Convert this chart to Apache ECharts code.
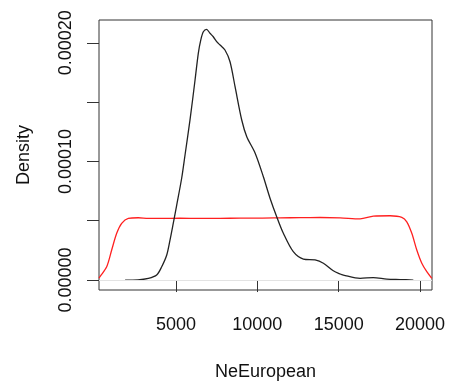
<!DOCTYPE html>
<html>
<head>
<meta charset="utf-8">
<script src="https://cdn.jsdelivr.net/npm/echarts@6/dist/echarts.min.js"></script>
<style>
html,body{margin:0;padding:0;background:#fff;}
#chart{width:449px;height:389px;}
</style>
</head>
<body>
<div id="chart"></div>
<script>
// Black density curve
var blackX = [1870, 2660, 3300, 3810, 4120, 4430, 4630, 4830, 5040, 5350, 5550, 5860, 6170, 6370, 6520, 6680, 6880, 7090, 7290, 7500, 7710, 8010, 8320, 8630, 9040, 9350, 9860, 10370, 10780, 11190, 11600, 12210, 12830, 13550, 14060, 14670, 15090, 15290, 16320, 17130, 17960, 18780, 19590];
var blackY = [0, 0.2e-6, 1.4e-6, 4.2e-6, 1.12e-5, 2.11e-5, 3.37e-5, 4.78e-5, 6.3e-5, 8.6e-5, 1.05e-4, 1.35e-4, 1.686e-4, 1.911e-4, 2.023e-4, 2.093e-4, 2.113e-4, 2.080e-4, 2.051e-4, 2.009e-4, 1.981e-4, 1.939e-4, 1.840e-4, 1.630e-4, 1.349e-4, 1.208e-4, 1.071e-4, 8.71e-5, 6.9e-5, 5.34e-5, 3.94e-5, 2.39e-5, 1.77e-5, 1.69e-5, 1.41e-5, 7.8e-6, 5.1e-6, 4.2e-6, 1.4e-6, 2.1e-6, 8e-7, 4e-7, 0];
// Red density curve
var redX = [265, 326, 738, 1045, 1353, 1660, 2066, 2681, 3296, 4120, 5246, 6476, 7706, 8936, 10166, 11396, 12626, 13856, 15086, 16316, 17134, 18161, 18881, 19188, 19496, 19803, 20111, 20418, 20726];
var redY = [1.5e-6, 2.8e-6, 1.12e-5, 2.53e-5, 3.94e-5, 4.78e-5, 5.20e-5, 5.25e-5, 5.20e-5, 5.20e-5, 5.21e-5, 5.20e-5, 5.20e-5, 5.22e-5, 5.22e-5, 5.24e-5, 5.26e-5, 5.27e-5, 5.24e-5, 5.16e-5, 5.38e-5, 5.42e-5, 5.29e-5, 4.91e-5, 3.94e-5, 2.53e-5, 1.41e-5, 7.0e-6, 1.4e-6];
// Axis ticks / labels
var xTicks = [5000, 10000, 15000, 20000];
var yTicks = [0, 0.00005, 0.0001, 0.00015, 0.0002];
var yLabels = [0, 0.0001, 0.0002];
var xName = 'NeEuropean';
var yName = 'Density';

function zip(a, b) { return a.map(function (v, i) { return [v, b[i]]; }); }

var FONT = 'Liberation Sans';
var chart = echarts.init(document.getElementById('chart'), null, {renderer: 'canvas'});
chart.setOption({
  animation: false,
  backgroundColor: '#ffffff',
  grid: {left: 99, right: 17, top: 20, bottom: 99, show: true, borderColor: '#333', borderWidth: 1, backgroundColor: 'transparent'},
  xAxis: {
    type: 'value', min: 265, max: 20738,
    name: xName, nameLocation: 'middle', nameGap: 73,
    nameTextStyle: {fontFamily: FONT, fontSize: 18, color: '#111'},
    axisLine: {show: false},
    splitLine: {show: false},
    axisTick: {show: true, length: 12, customValues: xTicks, lineStyle: {color: '#333', width: 1}},
    axisLabel: {customValues: xTicks, margin: 26, fontFamily: FONT, fontSize: 18, color: '#111',
      formatter: function (v) { return String(v); }}
  },
  yAxis: {
    type: 'value', min: -0.0000084, max: 0.0002192,
    name: yName, nameLocation: 'middle', nameGap: 66, nameRotate: 90,
    nameTextStyle: {fontFamily: FONT, fontSize: 18, color: '#111'},
    axisLine: {show: false},
    splitLine: {show: false},
    axisTick: {show: true, length: 12, customValues: yTicks, lineStyle: {color: '#333', width: 1}},
    axisLabel: {customValues: yLabels, rotate: 90, margin: 24, fontFamily: FONT, fontSize: 18, color: '#111',
      formatter: function (v) { return Number(v).toFixed(5); }}
  },
  series: [
    {
      type: 'line', data: zip(blackX, blackY), showSymbol: false, smooth: 0.3,
      lineStyle: {color: '#222', width: 1.3}, z: 3,
      markLine: {silent: true, symbol: ['none', 'none'], label: {show: false},
        lineStyle: {color: '#e3e3e3', type: 'solid', width: 1}, data: [{yAxis: 0}]}
    },
    {
      type: 'line', data: zip(redX, redY), showSymbol: false, smooth: 0.3,
      lineStyle: {color: '#ff2020', width: 1.3}, z: 2
    }
  ]
});
</script>
</body>
</html>
